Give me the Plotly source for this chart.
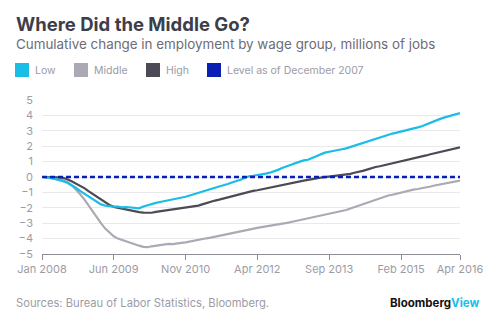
import pandas as pd
import plotly.graph_objects as go

# Monthly observations, Jan 2008 - Apr 2016 (millions of jobs vs. Dec 2007)
months = pd.date_range("2008-01-01", "2016-04-01", freq="MS")

low = [
    0.00, -0.02, -0.06, -0.12, -0.18, -0.27, -0.38, -0.52, -0.70, -0.90,
    -1.08, -1.25, -1.45, -1.62, -1.78, -1.86, -1.90, -1.93, -1.92, -1.97,
    -1.95, -1.98, -2.00, -2.03, -1.92, -1.82, -1.74, -1.68, -1.62, -1.57,
    -1.52, -1.46, -1.40, -1.36, -1.28, -1.20, -1.12, -1.06, -0.98, -0.90,
    -0.80, -0.70, -0.62, -0.55, -0.45, -0.36, -0.28, -0.18, -0.06, 0.05,
    0.08, 0.12, 0.15, 0.22, 0.28, 0.36, 0.48, 0.60, 0.72, 0.80,
    0.90, 1.00, 1.08, 1.12, 1.24, 1.38, 1.48, 1.58, 1.64, 1.68,
    1.75, 1.80, 1.86, 1.95, 2.05, 2.15, 2.22, 2.30, 2.40, 2.50,
    2.58, 2.66, 2.73, 2.82, 2.88, 2.94, 3.00, 3.08, 3.16, 3.22,
    3.30, 3.42, 3.55, 3.65, 3.74, 3.84, 3.92, 4.02, 4.10, 4.15,
]

middle = [
    0.00, -0.03, -0.07, -0.11, -0.15, -0.22, -0.33, -0.52, -0.80, -1.10,
    -1.45, -1.85, -2.25, -2.62, -3.00, -3.35, -3.62, -3.85, -4.00, -4.10,
    -4.18, -4.28, -4.38, -4.46, -4.54, -4.56, -4.50, -4.46, -4.42, -4.40,
    -4.34, -4.36, -4.30, -4.28, -4.24, -4.18, -4.14, -4.10, -4.04, -3.98,
    -3.94, -3.88, -3.83, -3.78, -3.72, -3.64, -3.58, -3.52, -3.44, -3.38,
    -3.33, -3.30, -3.26, -3.22, -3.16, -3.12, -3.10, -3.06, -2.98, -2.92,
    -2.86, -2.80, -2.74, -2.68, -2.62, -2.58, -2.52, -2.45, -2.38, -2.32,
    -2.28, -2.22, -2.14, -2.05, -1.96, -1.88, -1.78, -1.68, -1.58, -1.49,
    -1.40, -1.30, -1.20, -1.15, -1.08, -1.00, -0.92, -0.86, -0.82, -0.78,
    -0.74, -0.68, -0.62, -0.55, -0.50, -0.44, -0.38, -0.33, -0.27, -0.23,
]

high = [
    0.00, 0.00, 0.00, -0.01, -0.02, -0.06, -0.14, -0.28, -0.42, -0.55,
    -0.72, -0.92, -1.10, -1.30, -1.50, -1.68, -1.82, -1.94, -2.00, -2.06,
    -2.12, -2.16, -2.22, -2.28, -2.31, -2.33, -2.32, -2.26, -2.22, -2.20,
    -2.16, -2.10, -2.06, -2.04, -2.00, -1.96, -1.90, -1.86, -1.78, -1.68,
    -1.60, -1.53, -1.47, -1.40, -1.32, -1.22, -1.15, -1.08, -1.02, -0.95,
    -0.90, -0.86, -0.80, -0.74, -0.70, -0.64, -0.58, -0.50, -0.44, -0.38,
    -0.33, -0.28, -0.24, -0.19, -0.13, -0.08, -0.04, -0.01, 0.02, 0.04,
    0.08, 0.12, 0.14, 0.20, 0.28, 0.33, 0.40, 0.48, 0.58, 0.65,
    0.70, 0.76, 0.82, 0.88, 0.95, 1.02, 1.10, 1.16, 1.22, 1.26,
    1.32, 1.40, 1.48, 1.54, 1.60, 1.65, 1.72, 1.78, 1.85, 1.92,
]

baseline = [0.0] * len(months)

tick_dates = ["2008-01-01", "2009-06-01", "2010-11-01", "2012-04-01",
              "2013-09-01", "2015-02-01", "2016-04-01"]
tick_labels = ["Jan 2008", "Jun 2009", "Nov 2010", "Apr 2012",
               "Sep 2013", "Feb 2015", "Apr 2016"]
y_ticks = [-5, -4, -3, -2, -1, 0, 1, 2, 3, 4, 5]

series_names = ["Low", "Middle", "High", "Level as of December 2007"]
series_colors = ["#19bde6", "#abaab4", "#4b4a55", "#0a1fb4"]

FONT = "Inter"
GRAY = "#9c9ba5"

# plot area in pixels: x 42..460, y 100..254
PW, PH = 418, 154


def px_x(px):
    return (px - 42) / PW


def px_y(py):
    return (254 - py) / PH


fig = go.Figure()
fig.add_trace(go.Scatter(x=months, y=middle, mode="lines", name=series_names[1],
                         line=dict(color=series_colors[1], width=2.2)))
fig.add_trace(go.Scatter(x=months, y=high, mode="lines", name=series_names[2],
                         line=dict(color=series_colors[2], width=2.2)))
fig.add_trace(go.Scatter(x=months, y=low, mode="lines", name=series_names[0],
                         line=dict(color=series_colors[0], width=2.2)))
fig.add_trace(go.Scatter(x=months, y=baseline, mode="lines", name=series_names[3],
                         line=dict(color=series_colors[3], width=2.5, dash="5px,3px")))

fig.update_layout(
    width=500, height=326,
    margin=dict(l=42, r=40, t=100, b=72),
    paper_bgcolor="white", plot_bgcolor="white",
    showlegend=False,
    font=dict(family=FONT, color=GRAY, size=11),
    xaxis=dict(
        range=[months[0], months[-1]],
        tickvals=tick_dates, ticktext=tick_labels,
        showgrid=False, zeroline=False,
        showline=True, linecolor="#8d8c95", linewidth=1,
        ticks="outside", ticklen=5, tickcolor="#8d8c95",
        tickfont=dict(size=11, color=GRAY, family=FONT),
    ),
    yaxis=dict(
        range=[-5, 5], tickvals=y_ticks,
        showgrid=True, gridcolor="#e9e9ec", gridwidth=1,
        zeroline=False, showline=False,
        ticks="", ticklabelstandoff=8,
        tickfont=dict(size=11, color=GRAY, family=FONT),
    ),
)

# Title block
fig.add_annotation(xref="paper", yref="paper", x=px_x(14), y=px_y(24),
                   xanchor="left", yanchor="middle", showarrow=False,
                   text="<b>Where Did the Middle Go?</b>",
                   font=dict(family=FONT, size=18.5, color="#3e3d4a"))
fig.add_annotation(xref="paper", yref="paper", x=px_x(14), y=px_y(44),
                   xanchor="left", yanchor="middle", showarrow=False,
                   text="Cumulative change in employment by wage group, millions of jobs",
                   font=dict(family=FONT, size=13.4, color="#6d6c77"))

# Legend row: colored squares with labels
legend_x = [15, 74, 146, 207]
for name, color, px in zip(series_names, series_colors, legend_x):
    fig.add_shape(type="rect", xref="paper", yref="paper",
                  x0=px_x(px), x1=px_x(px + 14), y0=px_y(77), y1=px_y(63),
                  fillcolor=color, line=dict(width=0))
    fig.add_annotation(xref="paper", yref="paper", x=px_x(px + 18),
                       y=px_y(70), xanchor="left", yanchor="middle",
                       showarrow=False, text=name,
                       font=dict(family=FONT, size=10.5, color=GRAY))

# Footer
fig.add_annotation(xref="paper", yref="paper", x=px_x(14), y=px_y(303),
                   xanchor="left", yanchor="middle", showarrow=False,
                   text="Sources: Bureau of Labor Statistics, Bloomberg.",
                   font=dict(family=FONT, size=11.2, color=GRAY))
fig.add_annotation(xref="paper", yref="paper", x=px_x(481), y=px_y(303),
                   xanchor="right", yanchor="middle", showarrow=False,
                   text="<b><span style='color:#111111'>Bloomberg</span>"
                        "<span style='color:#19bde6'>View</span></b>",
                   font=dict(family=FONT, size=11.5))

fig.write_html("out.html")
